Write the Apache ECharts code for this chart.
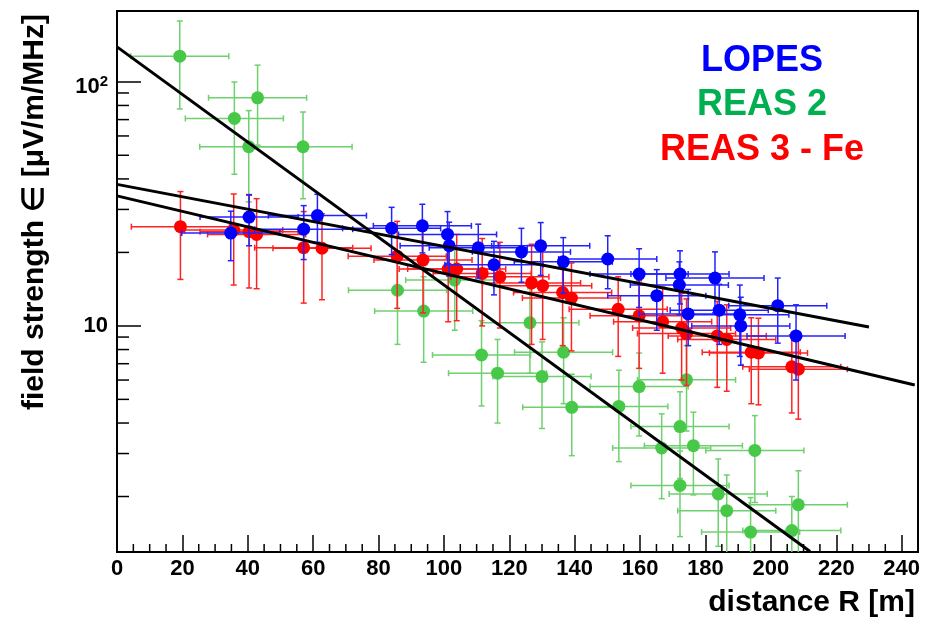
<!DOCTYPE html>
<html>
<head>
<meta charset="utf-8">
<title>field strength vs distance</title>
<script src="https://cdn.jsdelivr.net/npm/echarts@6/dist/echarts.min.js"></script>
<style>
  html, body { margin: 0; padding: 0; background: #fff; }
  #chart { width: 929px; height: 620px; }
</style>
</head>
<body>
<div id="chart"></div>
<script>
// LOPES measurements: distance R [m], field strength, errors
var lopesR    = [34.8, 40.4, 57.1, 61.3, 84.0, 93.4, 101.1, 101.6, 110.5, 115.3, 123.7, 129.6, 136.5, 150.1, 159.7, 165.1, 172.0, 172.2, 174.7, 182.9, 184.2, 190.5, 190.8, 202.1, 207.7];
var lopesE    = [24.0, 27.9, 24.9, 28.3, 25.1, 25.7, 23.7, 21.3, 20.9, 17.8, 20.1, 21.3, 18.3, 18.8, 16.3, 13.3, 14.7, 16.3, 11.2, 15.7, 11.6, 11.1, 10.0, 12.1, 9.1];
var lopesRErr = [15, 15, 15, 15, 15, 15, 15, 15, 15, 15, 15, 15, 15, 15, 15, 15, 15, 15, 15, 15, 15, 15, 15, 15, 15];
var lopesEErr = [5.5, 6.6, 6.2, 6.3, 5.5, 5.8, 5.7, 5.3, 5.2, 4.4, 5.0, 5.2, 4.7, 4.6, 4.4, 3.7, 3.6, 4.0, 2.9, 4.4, 3.2, 3.6, 3.1, 3.6, 3.1];

// REAS 2 simulation
var reas2R    = [19.2, 35.9, 40.3, 43.0, 56.9, 85.8, 93.8, 103.3, 111.5, 116.4, 126.3, 130.0, 136.6, 139.1, 153.5, 159.7, 166.6, 172.2, 172.2, 174.2, 176.3, 183.9, 186.5, 193.8, 195.1, 206.4, 208.4];
var reas2E    = [127.4, 70.8, 54.2, 86.0, 54.2, 14.0, 11.5, 15.4, 7.6, 6.4, 10.3, 6.2, 7.8, 4.64, 4.68, 5.64, 3.16, 3.87, 2.22, 6.01, 3.23, 2.05, 1.75, 1.43, 3.09, 1.45, 1.85];
var reas2RErr = [15, 15, 15, 15, 15, 15, 15, 15, 15, 15, 15, 15, 15, 15, 15, 15, 15, 15, 15, 15, 15, 15, 15, 15, 15, 15, 15];
var reas2EErr = [50, 29, 22, 31, 21, 5.6, 4.4, 5.8, 2.9, 2.4, 3.9, 2.4, 3.0, 1.7, 1.9, 2.1, 1.2, 1.5, 0.85, 2.3, 1.2, 0.8, 0.7, 0.55, 1.2, 0.55, 0.7];

// REAS 3 - Fe simulation
var reas3R    = [19.4, 35.7, 40.4, 42.7, 57.1, 62.7, 85.7, 93.6, 101.3, 103.9, 111.7, 117.1, 126.8, 130.2, 136.3, 139.0, 153.3, 159.7, 166.9, 172.7, 174.2, 183.6, 186.5, 194.0, 196.2, 206.4, 208.4];
var reas3E    = [25.5, 24.7, 24.3, 23.7, 20.9, 20.8, 19.3, 18.6, 17.1, 17.1, 16.4, 15.9, 15.0, 14.6, 13.7, 13.0, 11.7, 11.0, 10.4, 9.8, 9.3, 9.1, 8.8, 7.8, 7.75, 6.8, 6.65];
var reas3RErr = [15, 15, 15, 15, 15, 15, 15, 15, 15, 15, 15, 15, 15, 15, 15, 15, 15, 15, 15, 15, 15, 15, 15, 15, 15, 15, 15];
var reas3EErr = [10.0, 10.0, 10.0, 9.5, 8.5, 8.0, 7.5, 7.3, 6.7, 6.6, 6.4, 6.1, 6.6, 5.8, 5.4, 5.1, 4.2, 4.3, 4.0, 3.8, 3.6, 3.5, 3.4, 3.0, 3.0, 2.4, 2.5];

// exponential fits (end points)
var fitLopes = [[0, 38.0], [230, 9.9]];
var fitReas2 = [[0, 139], [212, 1.19]];
var fitReas3 = [[0, 34.1], [244, 5.73]];

// axes
var xMin = 0, xMax = 245;
var yMin = 1.185, yMax = 195;
var xMinorTicks = [5, 10, 15, 25, 30, 35, 45, 50, 55, 65, 70, 75, 85, 90, 95, 105, 110, 115, 125, 130, 135, 145, 150, 155, 165, 170, 175, 185, 190, 195, 205, 210, 215, 225, 230, 235];
var yMinorTicks = [2, 3, 4, 5, 6, 7, 8, 9, 20, 30, 40, 50, 60, 70, 80, 90];

var FONT = '"Liberation Sans", Arial, Helvetica, sans-serif';

var errorSeries = function(name, xs, ys, xe, ye, color, z){
    var data = xs.map(function(x, i){ return [x, ys[i], xe[i], ye[i]]; });
    return {
        type: 'custom',
        name: name,
        z: z,
        silent: true,
        clip: true,
        data: data,
        encode: {x: 0, y: 1},
        renderItem: function(params, api){
            var cs = params.coordSys;
            var x = api.value(0), y = api.value(1), dx = api.value(2), dy = api.value(3);
            var c = api.coord([x, y]);
            var l = api.coord([x - dx, y]);
            var r = api.coord([x + dx, y]);
            var t = api.coord([x, y + dy]);
            var b = api.coord([x, y - dy]);
            var bottom = cs.y + cs.height;
            var st = {stroke: color, lineWidth: 1.5};
            var cap = 3;
            var kids = [
                {type: 'line', shape: {x1: l[0], y1: c[1], x2: r[0], y2: c[1]}, style: st},
                {type: 'line', shape: {x1: l[0], y1: c[1] - cap, x2: l[0], y2: c[1] + cap}, style: st},
                {type: 'line', shape: {x1: r[0], y1: c[1] - cap, x2: r[0], y2: c[1] + cap}, style: st},
                {type: 'line', shape: {x1: c[0], y1: t[1], x2: c[0], y2: Math.min(b[1], bottom)}, style: st},
                {type: 'line', shape: {x1: c[0] - cap, y1: t[1], x2: c[0] + cap, y2: t[1]}, style: st}
            ];
            if(b[1] < bottom){
                kids.push({type: 'line', shape: {x1: c[0] - cap, y1: b[1], x2: c[0] + cap, y2: b[1]}, style: st});
            }
            return {type: 'group', children: kids};
        }
    };
};

var pointSeries = function(name, xs, ys, color, z){
    return {
        type: 'scatter',
        name: name,
        z: z,
        symbol: 'circle',
        symbolSize: 13,
        itemStyle: {color: color, opacity: 1},
        data: xs.map(function(x, i){ return [x, ys[i]]; })
    };
};

var fitSeries = function(data){
    return {
        type: 'line',
        z: 20,
        symbol: 'none',
        silent: true,
        clip: true,
        lineStyle: {color: '#000', width: 3},
        data: data
    };
};

var minorTickSeries = {
    type: 'custom',
    z: 21,
    silent: true,
    data: xMinorTicks.map(function(v){ return [v, yMin, 0]; })
        .concat(yMinorTicks.map(function(v){ return [xMin, v, 1]; })),
    encode: {x: 0, y: 1},
    renderItem: function(params, api){
        var p = api.coord([api.value(0), api.value(1)]);
        var isY = api.value(2) === 1;
        return {
            type: 'line',
            shape: isY ? {x1: p[0], y1: p[1], x2: p[0] + 12, y2: p[1]}
                       : {x1: p[0], y1: p[1], x2: p[0], y2: p[1] - 8},
            style: {stroke: '#000', lineWidth: 1.5}
        };
    }
};

var chart = echarts.init(document.getElementById('chart'), null, {renderer: 'canvas'});

chart.setOption({
    animation: false,
    backgroundColor: '#fff',
    grid: {
        left: 117, top: 11, right: 11, bottom: 68,
        show: true, borderColor: '#000', borderWidth: 2,
        outerBoundsMode: 'none', containLabel: false
    },
    xAxis: {
        type: 'value',
        min: xMin, max: xMax, interval: 20,
        axisLine: {show: true, lineStyle: {color: '#000', width: 2}},
        axisTick: {show: true, inside: true, length: 17, lineStyle: {color: '#000', width: 1.5}},
        splitLine: {show: false},
        axisLabel: {
            margin: 6, color: '#000', fontFamily: FONT, fontWeight: 'bold', fontSize: 22,
            formatter: function(v){ return (v % 20 === 0) ? String(v) : ''; }
        }
    },
    yAxis: {
        type: 'log', logBase: 10,
        min: yMin, max: yMax,
        axisLine: {show: true, lineStyle: {color: '#000', width: 2}},
        axisTick: {show: true, inside: true, length: 24, lineStyle: {color: '#000', width: 1.5}},
        splitLine: {show: false},
        minorTick: {show: false},
        axisLabel: {
            margin: 9, color: '#000', fontFamily: FONT, fontWeight: 'bold', fontSize: 22,
            lineHeight: 11,
            showMinLabel: false, showMaxLabel: false,
            formatter: function(v){
                var e = Math.round(Math.log(v) / Math.LN10);
                if(Math.abs(v - Math.pow(10, e)) > 1e-6 * v) return '';
                if(e === 2) return '\n{b|10}{s|2}';
                if(e === 1) return '10';
                return '';
            },
            rich: {
                b: {fontFamily: FONT, fontWeight: 'bold', fontSize: 22, lineHeight: 26, color: '#000'},
                s: {fontFamily: FONT, fontWeight: 'bold', fontSize: 15, lineHeight: 26, color: '#000', verticalAlign: 'top'}
            }
        }
    },
    graphic: [
        {type: 'text', x: 762, y: 61, z: 30, style: {text: 'LOPES', fill: '#0000ff', font: 'bold 36px ' + FONT, align: 'center', verticalAlign: 'middle'}},
        {type: 'text', x: 762, y: 105.5, z: 30, style: {text: 'REAS 2', fill: '#00b050', font: 'bold 36px ' + FONT, align: 'center', verticalAlign: 'middle'}},
        {type: 'text', x: 762, y: 150, z: 30, style: {text: 'REAS 3 - Fe', fill: '#ff0000', font: 'bold 36px ' + FONT, align: 'center', verticalAlign: 'middle'}},
        {type: 'text', x: 915, y: 603, z: 30, style: {text: 'distance R [m]', fill: '#000', font: 'bold 30px ' + FONT, align: 'right', verticalAlign: 'middle'}},
        {type: 'text', x: 35, y: 212, rotation: Math.PI / 2, z: 30, style: {text: 'field strength \u2208 [\u03bcV/m/MHz]', fill: '#000', font: 'bold 30px ' + FONT, align: 'center', verticalAlign: 'middle'}}
    ],
    series: [
        errorSeries('REAS 2', reas2R, reas2E, reas2RErr, reas2EErr, '#6fd06f', 2),
        pointSeries('REAS 2', reas2R, reas2E, '#48c848', 3),
        errorSeries('REAS 3 - Fe', reas3R, reas3E, reas3RErr, reas3EErr, '#ff2222', 4),
        pointSeries('REAS 3 - Fe', reas3R, reas3E, '#ff0000', 5),
        errorSeries('LOPES', lopesR, lopesE, lopesRErr, lopesEErr, '#2222ff', 6),
        pointSeries('LOPES', lopesR, lopesE, '#0000ff', 7),
        fitSeries(fitLopes),
        fitSeries(fitReas2),
        fitSeries(fitReas3),
        minorTickSeries
    ]
});
</script>
</body>
</html>
